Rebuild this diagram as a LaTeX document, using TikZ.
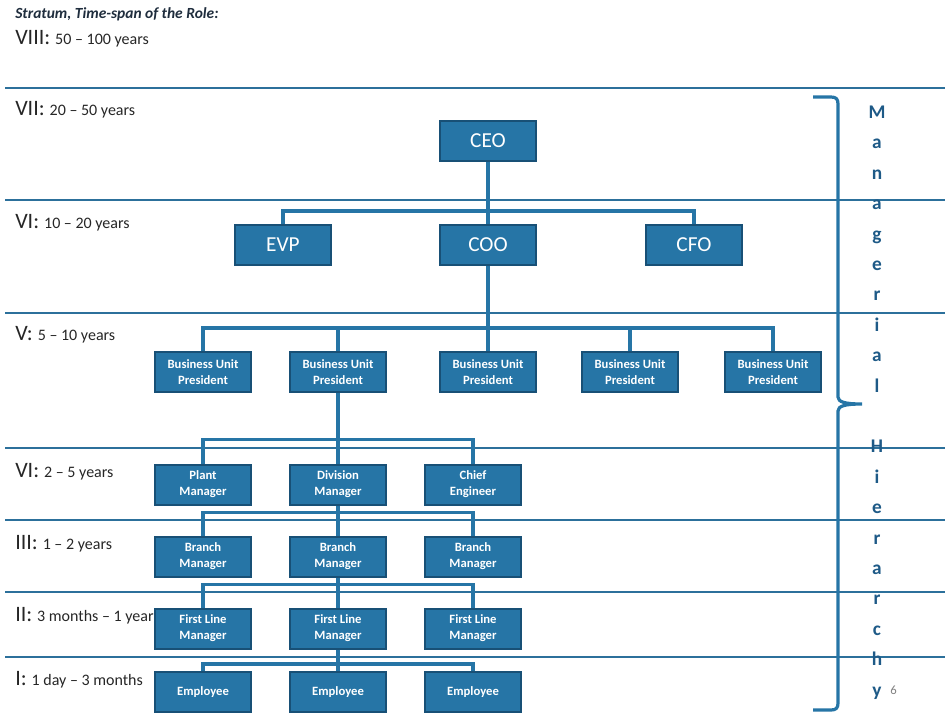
\documentclass[tikz,border=0pt]{standalone}
\usepackage{fontspec}
\setmainfont{Carlito}
\definecolor{boxfill}{RGB}{38,117,166}
\definecolor{boxedge}{RGB}{24,80,118}
\definecolor{linkblue}{RGB}{38,117,166}
\definecolor{rulecol}{RGB}{44,112,155}
\definecolor{lettercol}{RGB}{30,90,135}
\definecolor{labtext}{RGB}{38,38,38}
\definecolor{titletext}{RGB}{31,45,61}
\begin{document}
\begin{tikzpicture}[x=0.75pt,y=-0.75pt,
  rolebox/.style={draw=boxedge, fill=boxfill, line width=1.5pt, text=white,
    font=\bfseries\fontsize{9.5}{12}\selectfont, align=center,
    minimum width=72pt, minimum height=30pt, inner sep=0pt},
  bigbox/.style={rolebox, font=\fontsize{16}{18}\selectfont},
  link/.style={draw=linkblue, line width=2.6pt},
  stratum/.style={draw=rulecol, line width=1.4pt},
  lab/.style={anchor=base west, inner sep=0pt, text=labtext, font=\fontsize{16.5}{18}\selectfont},
  letter/.style={anchor=base, inner sep=0pt, text=lettercol, font=\bfseries\fontsize{14.5}{16}\selectfont},
]
\useasboundingbox (0,0) rectangle (945,713);
\newcommand{\yrs}[1]{\fontsize{12}{14}\selectfont #1}

% stratum rules
\foreach \yy in {88,200,313,448,520,592,657}
  \draw[stratum] (5,\yy) -- (945,\yy);

% title and labels
\node[anchor=base west, inner sep=0pt, text=titletext, font=\bfseries\itshape\fontsize{11.6}{13}\selectfont] (title) at (15,19) {Stratum, Time-span of the Role:};
\node[lab] (l8) at (15,45) {VIII: \yrs{50 – 100 years}};
\node[lab] (l7) at (15,116) {VII: \yrs{20 – 50 years}};
\node[lab] (l6) at (15,228) {VI: \yrs{10 – 20 years}};
\node[lab] (l5) at (15,340) {V: \yrs{5 – 10 years}};
\node[lab] (l4) at (15,477) {VI: \yrs{2 – 5 years}};
\node[lab] (l3) at (15,549) {III: \yrs{1 – 2 years}};
\node[lab] (l2) at (15,621) {II: \yrs{3 months – 1 year}};
\node[lab] (l1) at (15,685) {I: \yrs{1 day – 3 months}};

% boxes
\node[bigbox] (ceo) at (488,141) {CEO};
\node[bigbox] (evp) at (283,245) {EVP};
\node[bigbox] (coo) at (488,245) {COO};
\node[bigbox] (cfo) at (694,245) {CFO};

\node[rolebox] (bup1) at (203,372) {Business Unit\\President};
\node[rolebox] (bup2) at (338,372) {Business Unit\\President};
\node[rolebox] (bup3) at (488,372) {Business Unit\\President};
\node[rolebox] (bup4) at (630,372) {Business Unit\\President};
\node[rolebox] (bup5) at (773,372) {Business Unit\\President};

\node[rolebox] (plant) at (203,484.5) {Plant\\Manager};
\node[rolebox] (div)   at (338,484.5) {Division\\Manager};
\node[rolebox] (chief) at (473,484.5) {Chief\\Engineer};

\node[rolebox] (br1) at (203,556.5) {Branch\\Manager};
\node[rolebox] (br2) at (338,556.5) {Branch\\Manager};
\node[rolebox] (br3) at (473,556.5) {Branch\\Manager};

\node[rolebox] (fl1) at (203,628.5) {First Line\\Manager};
\node[rolebox] (fl2) at (338,628.5) {First Line\\Manager};
\node[rolebox] (fl3) at (473,628.5) {First Line\\Manager};

\node[rolebox] (em1) at (203,692) {Employee};
\node[rolebox] (em2) at (338,692) {Employee};
\node[rolebox] (em3) at (473,692) {Employee};

% connectors
\draw[link] (ceo.south) -- (coo.north);
\draw[link] (evp.north) -- ++(0,-13) -| (cfo.north);

\draw[link] (coo.south) -- (bup3.north);
\draw[link] (bup1.north) -- ++(0,-23) -| (bup5.north);
\draw[link] (bup2.north) -- ++(0,-23);
\draw[link] (bup4.north) -- ++(0,-23);

\draw[link] (bup2.south) -- (div.north);
\draw[link] (plant.north) -- ++(0,-24) -| (chief.north);

\draw[link] (div.south) -- (br2.north);
\draw[link] (br1.north) -- ++(0,-23) -| (br3.north);

\draw[link] (br2.south) -- (fl2.north);
\draw[link] (fl1.north) -- ++(0,-23) -| (fl3.north);

\draw[link] (fl2.south) -- (em2.north);
\draw[link] (em1.north) -- ++(0,-7) -| (em3.north);

% bracket
\draw[link, line width=2.4pt]
  (813,97) -- (831,97) .. controls (836,97) and (838,99) .. (838,104)
  -- (838,397) .. controls (838,402) and (845,404) .. (862,404)
  .. controls (845,404) and (838,406) .. (838,411)
  -- (838,703) .. controls (838,708) and (836,710) .. (831,710) -- (813,710);

% vertical text
\foreach \ch [count=\i from 0] in {M,a,n,a,g,e,r,i,a,l}
  \node[letter] (mg\i) at (877,{118.5+30.4*\i}) {\ch};
\foreach \ch [count=\i from 11] in {H,i,e,r,a,r,c,h,y}
  \node[letter] (hy\i) at (877,{118.5+30.4*\i}) {\ch};

\node[anchor=base west, inner sep=0pt, text=gray, font=\fontsize{9.5}{10}\selectfont] (pg) at (890,694) {6};
\end{tikzpicture}
\end{document}
